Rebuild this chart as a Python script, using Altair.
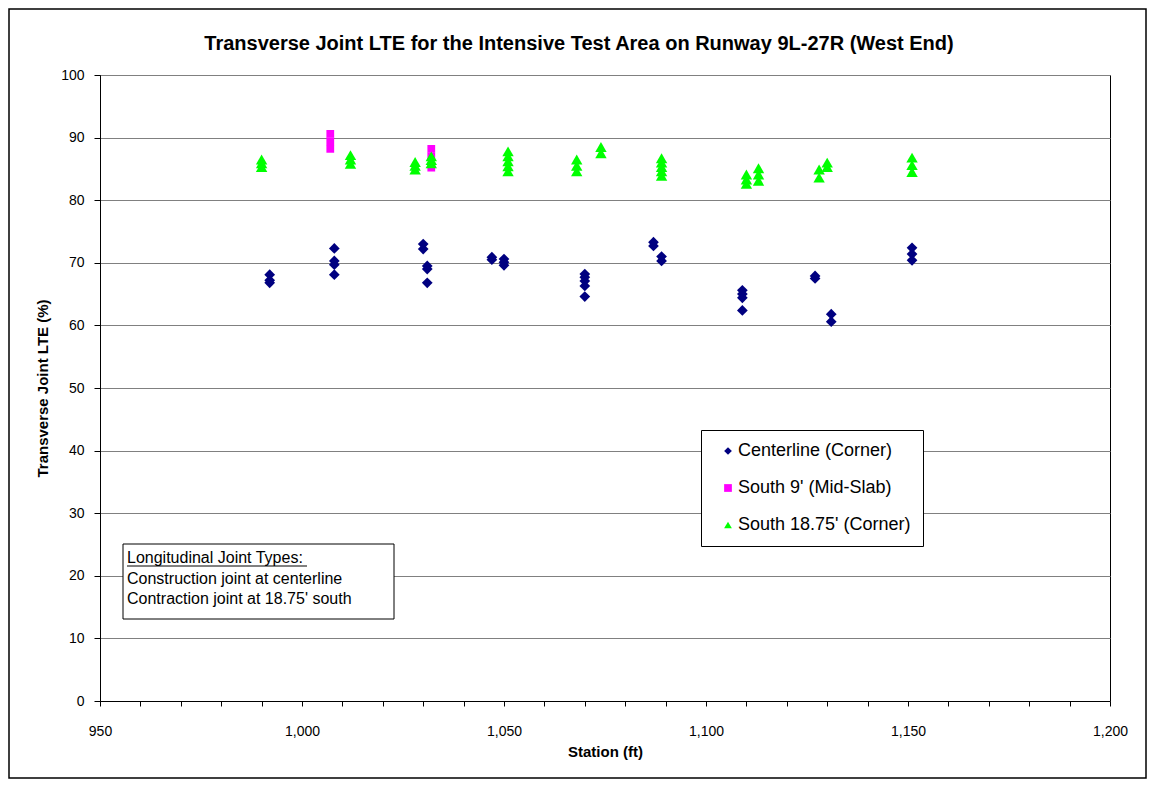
import altair as alt
import pandas as pd

# ---------------- data ----------------
series_names = ["Centerline (Corner)", "South 9' (Mid-Slab)", "South 18.75' (Corner)"]
series_colors = ["#000080", "#FF00FF", "#00FF00"]
series_shapes = ["diamond", "square", "triangle-up"]
series_sizes = [115, 60, 130]

cl_station = [992, 992, 992,
              1008, 1008, 1008, 1008,
              1030, 1030,
              1031, 1031, 1031,
              1047, 1047,
              1050, 1050, 1050,
              1070, 1070, 1070, 1070, 1070,
              1087, 1087,
              1089, 1089,
              1109, 1109, 1109, 1109,
              1127, 1127,
              1131, 1131,
              1151, 1151, 1151]
cl_lte = [68.1, 67.2, 66.8,
          72.3, 70.3, 69.7, 68.1,
          73.0, 72.2,
          69.5, 69.0, 66.8,
          70.9, 70.5,
          70.6, 70.1, 69.6,
          68.2, 67.7, 67.1, 66.3, 64.6,
          73.3, 72.7,
          71.0, 70.3,
          65.6, 65.0, 64.4, 62.4,
          67.9, 67.5,
          61.8, 60.6,
          72.4, 71.4, 70.4]

s9_station = [1007, 1007, 1007, 1032, 1032, 1032]
s9_lte = [90.6, 89.4, 88.2, 88.2, 87.0, 85.2]

s18_station = [990, 990, 990,
               1012, 1012, 1012,
               1028, 1028, 1028,
               1032, 1032, 1032,
               1051, 1051, 1051, 1051, 1051,
               1068, 1068, 1068,
               1074, 1074,
               1089, 1089, 1089, 1089, 1089,
               1110, 1110, 1110,
               1113, 1113, 1113,
               1128, 1128,
               1130, 1130,
               1151, 1151, 1151]
s18_lte = [86.5, 85.9, 85.3,
           87.2, 86.5, 85.8,
           86.1, 85.5, 84.9,
           87.0, 86.4, 85.9,
           87.8, 87.0, 86.2, 85.4, 84.6,
           86.5, 85.5, 84.6,
           88.5, 87.5,
           86.7, 86.0, 85.3, 84.6, 83.9,
           84.1, 83.3, 82.6,
           85.1, 84.1, 83.1,
           84.9, 83.6,
           86.0, 85.3,
           86.8, 85.6, 84.5]

x_ticks = list(range(950, 1201, 10))
y_ticks = list(range(0, 101, 10))

title_text = "Transverse Joint LTE for the Intensive Test Area on Runway 9L-27R (West End)"
x_title = "Station (ft)"
y_title = "Transverse Joint LTE (%)"
note_lines = ["Longitudinal Joint Types:",
              "Construction joint at centerline",
              "Contraction joint at 18.75' south"]

# ---------------- table ----------------
rows = []
for st, v in zip(cl_station, cl_lte):
    rows.append({"Station": st, "LTE": v, "Series": series_names[0]})
for st, v in zip(s9_station, s9_lte):
    rows.append({"Station": st, "LTE": v, "Series": series_names[1]})
for st, v in zip(s18_station, s18_lte):
    rows.append({"Station": st, "LTE": v, "Series": series_names[2]})
df = pd.DataFrame(rows)

FONT = "Liberation Sans"
W, H = 1010, 626

legend = alt.Legend(orient="none", legendX=601, legendY=355, title=None)

x_enc = alt.X("Station:Q",
              scale=alt.Scale(domain=[950, 1200], nice=False, zero=False),
              axis=alt.Axis(values=x_ticks,
                            labelExpr="datum.value % 50 == 0 ? format(datum.value, ',') : ''",
                            labelFlush=False,
                            title=x_title, grid=False, tickSize=5, labelPadding=18,
                            titlePadding=6))
y_enc = alt.Y("LTE:Q",
              scale=alt.Scale(domain=[0, 100], nice=False),
              axis=alt.Axis(values=y_ticks, title=y_title, grid=True, tickSize=6,
                            labelPadding=10, titlePadding=10))
color_enc = alt.Color("Series:N",
                      scale=alt.Scale(domain=series_names, range=series_colors),
                      legend=legend)
shape_enc = alt.Shape("Series:N",
                      scale=alt.Scale(domain=series_names, range=series_shapes),
                      legend=legend)

series_layers = []
for name, sz in zip(series_names, series_sizes):
    series_layers.append(
        alt.Chart(df).transform_filter(alt.datum.Series == name)
        .mark_point(filled=True, opacity=1, strokeWidth=0, size=sz)
        .encode(x=x_enc, y=y_enc, color=color_enc, shape=shape_enc)
    )

one = pd.DataFrame({"k": [0]})

frame = alt.Chart(one).mark_rect(fillOpacity=0, stroke="black", strokeWidth=1.5).encode(
    x=alt.value(-91), x2=alt.value(1046), y=alt.value(-66), y2=alt.value(703))

title_mark = alt.Chart(one).mark_text(align="center", baseline="middle", font=FONT,
                                      fontSize=20, fontWeight="bold", color="black").encode(
    x=alt.value(479), y=alt.value(-31), text=alt.value(title_text))

note_box = alt.Chart(one).mark_rect(fill="white", stroke="black", strokeWidth=1).encode(
    x=alt.value(23), x2=alt.value(294), y=alt.value(469), y2=alt.value(544))

note_text = alt.Chart(one).mark_text(align="left", baseline="top", font=FONT,
                                     fontSize=16, lineHeight=20.5, color="black").encode(
    x=alt.value(27), y=alt.value(475), text=alt.value(note_lines))

underline = alt.Chart(one).mark_rule(color="black", strokeWidth=1).encode(
    x=alt.value(27), x2=alt.value(207), y=alt.value(491))

chart = alt.layer(frame, title_mark, *series_layers, note_box, note_text, underline).properties(
    width=W, height=H,
    autosize=alt.AutoSizeParams(type="none"),
    padding={"left": 92, "top": 67, "right": 38, "bottom": 78},
).configure_view(
    stroke="black", strokeWidth=1
).configure_axis(
    labelFont=FONT, labelFontSize=14, labelColor="black",
    titleFont=FONT, titleFontSize=15, titleFontWeight="bold", titleColor="black",
    domainColor="black", tickColor="black", gridColor="#808080", gridWidth=1,
).configure_legend(
    labelFont=FONT, labelFontSize=18, labelColor="black", labelLimit=400,
    padding=12, rowPadding=19, symbolOffset=6, labelOffset=1,
    strokeColor="black", fillColor="white", symbolSize=60,
    symbolStrokeWidth=0,
)

chart.save("out.html", embed_options={"renderer": "svg", "actions": False})
